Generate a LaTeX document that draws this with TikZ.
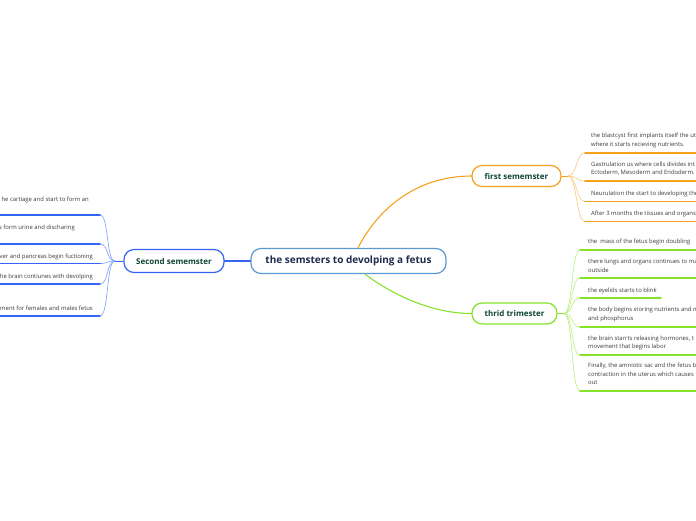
\documentclass[tikz,border=0pt]{standalone}
\usepackage{fontspec}
\setmainfont{Open Sans}
\usepackage{tikz}

\definecolor{rootblue}{HTML}{5B9BD5}
\definecolor{rootnavy}{HTML}{1E2B4D}
\definecolor{topicgreen}{HTML}{0F4536}
\definecolor{leafgrey}{HTML}{3A3A3A}
\definecolor{secblue}{HTML}{3465F4}
\definecolor{secpale}{HTML}{7D9BFF}
\definecolor{firstorange}{HTML}{F6A21E}
\definecolor{firstpale}{HTML}{FBC77C}
\definecolor{thirdgreen}{HTML}{84E32A}
\definecolor{thirdpale}{HTML}{B6EE7C}

\begin{document}
\begin{tikzpicture}[x=1pt, y=-1pt, line cap=round,
  topic/.style={draw, line width=1.2pt, rounded corners=10pt, fill=white, text=topicgreen,
    font=\fontsize{8}{10}\selectfont\bfseries, minimum height=21pt, inner sep=0pt},
  leaf/.style={inner sep=0pt, anchor=west, align=left, text=leafgrey,
    font=\fontsize{5.9}{8.6}\selectfont},
  leafl/.style={leaf, anchor=east, align=right},
  branch/.style={line width=1.1pt},
  twig/.style={line width=0.6pt},
  fan/.style={twig, distance=9pt},
  uline/.style={line width=1.6pt}]
  \useasboundingbox (0,0) rectangle (696,520);
  \clip (0,0) rectangle (696,520);

  \node[draw=rootblue, line width=1.2pt, rounded corners=10pt, fill=white, text=rootnavy,
    font=\fontsize{10}{12}\selectfont\bfseries, minimum width=195pt, minimum height=25pt,
    inner sep=0pt] (root) at (348.5,261) {the semsters to devolping a fetus};
  \node[topic, draw=secblue, minimum width=100pt, minimum height=23pt] (second) at (174,261) {Second sememster};
  \node[topic, draw=firstorange, minimum width=89pt] (first) at (516.5,176) {first sememster};
  \node[topic, draw=thirdgreen, minimum width=85pt] (third) at (514.5,313.5) {thrid trimester};

  \draw[branch, secblue] (root.west) -- (second.east);
  \draw[branch, firstorange] ([xshift=9.5pt]root.north) .. controls (380,205) and (420,176) .. (first.west);
  \draw[branch, thirdgreen] ([xshift=16.5pt]root.south) .. controls (390,293) and (430,313.5) .. (third.west);

  % second sememster
  \coordinate (sfan) at (115,261);
  \node[leafl] (s1) at (89,200) {he cartiage and start to form an};
  \node[leafl] (s2) at (75,227.5) {s form urine and discharing};
  \node[leafl] (s3) at (93,256.5) {ver and pancreas begin fuctioning};
  \node[leafl] (s4) at (93,277) {he brain contiunes with devolping};
  \node[leafl] (s5) at (93,308.5) {ment for females and males fetus};
  \coordinate (s1u) at (100,215);
  \coordinate (s2u) at (100,244);
  \coordinate (s3u) at (100,263.5);
  \coordinate (s4u) at (100,284);
  \coordinate (s5u) at (100,316);
  \draw[twig, secblue] (second.west) -- (sfan);
  \foreach \s in {s1u,s2u,s3u,s4u,s5u}{
    \draw[fan, secpale] (sfan) to[out=180, in=0] (\s);
    \draw[uline, secblue] (\s) -- ++(-110,0);
  }

  % first sememster
  \coordinate (ffan) at (568,176);
  \node[leaf] (f1) at (591,140.5) {the blastcyst first implants itself the ut\\where it starts recieving nutrients.};
  \node[leaf] (f2) at (591,168.5) {Gastrulation us where cells divides int\\Ectoderm, Mesoderm and Endoderm.};
  \node[leaf] (f3) at (591,194) {Neurulation the start to developing the};
  \node[leaf] (f4) at (591,213.5) {After 3 months the tissues and organs};
  \coordinate (f1u) at (585,153);
  \coordinate (f2u) at (585,181);
  \coordinate (f3u) at (585,201.5);
  \coordinate (f4u) at (585,221.5);
  \draw[twig, firstorange] (first.east) -- (ffan);
  \foreach \f in {f1u,f2u,f3u,f4u}{
    \draw[fan, firstpale] (ffan) to[out=0, in=180] (\f);
    \draw[uline, firstorange] (\f) -- ++(120,0);
  }

  % thrid trimester
  \coordinate (tfan) at (564,313.5);
  \node[leaf] (t1) at (588,241.5) {the\ \ mass of the fetus begin doubling};
  \node[leaf] (t2) at (588,266) {there lungs and organs continues to ma\\outside};
  \node[leaf] (t3) at (588,290.5) {the eyelids starts to blink};
  \node[leaf] (t4) at (588,314.5) {the body begins storing nutrients and m\\and phosphorus};
  \node[leaf] (t5) at (588,343) {the brain starrts releasing hormones, t\\movement that begins labor};
  \node[leaf] (t6) at (588,374) {Finally, the amniotic sac and the fetus b\\contraction in the uterus which causes\\out};
  \coordinate (t1u) at (580,250);
  \coordinate (t2u) at (580,278);
  \coordinate (t3u) at (580,298);
  \coordinate (t4u) at (580,327);
  \coordinate (t5u) at (580,355);
  \coordinate (t6u) at (580,391);
  \draw[twig, thirdgreen] (third.east) -- (tfan);
  \foreach \t in {t1u,t2u,t4u,t5u,t6u}{
    \draw[fan, thirdpale] (tfan) to[out=0, in=180] (\t);
    \draw[uline, thirdgreen] (\t) -- ++(120,0);
  }
  \draw[fan, thirdpale] (tfan) to[out=0, in=180] (t3u);
  \draw[uline, thirdgreen] (t3u) -- (661,298);
\end{tikzpicture}
\end{document}
